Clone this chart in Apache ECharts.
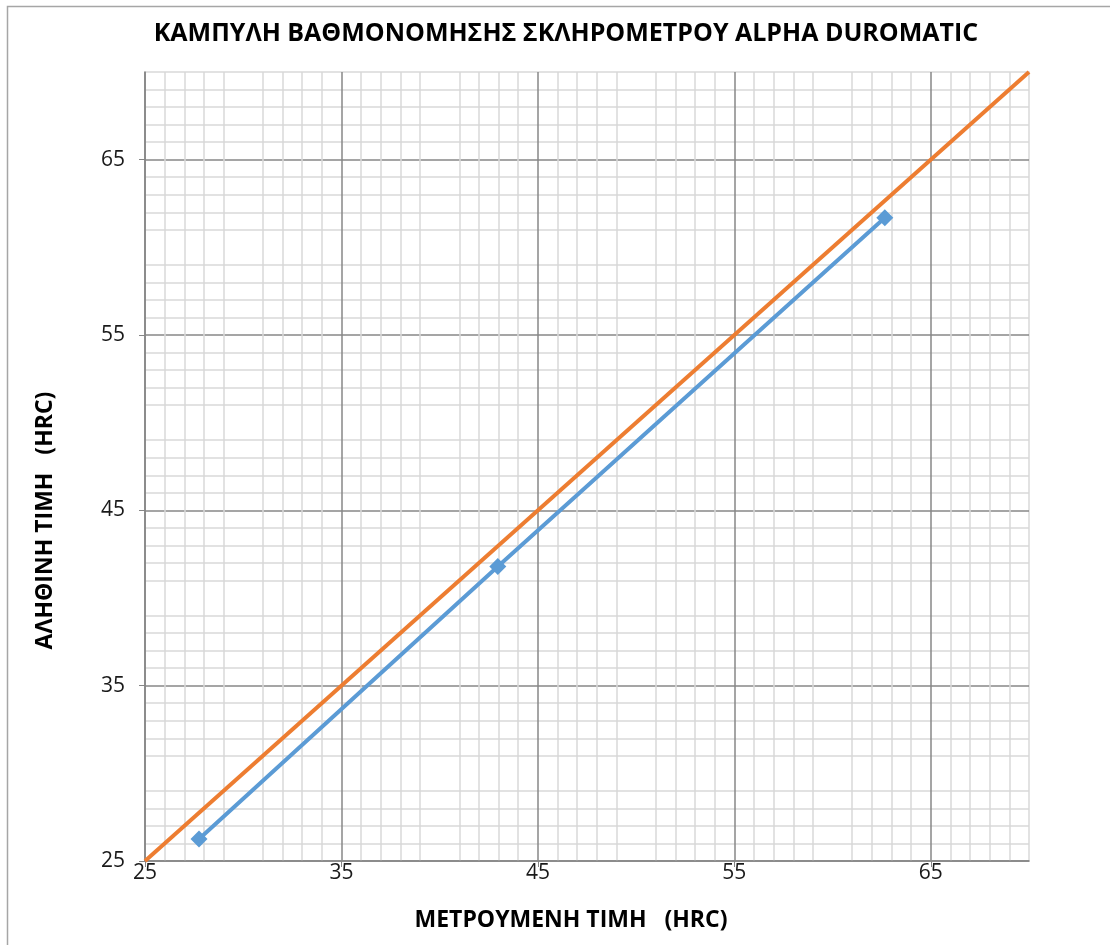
<!DOCTYPE html>
<html><head><meta charset="utf-8">
<script src="https://cdn.jsdelivr.net/npm/echarts@6/dist/echarts.min.js"></script>
<style>html,body{margin:0;padding:0;background:#fff}#c{width:1110px;height:945px}</style>
</head><body><div id="c"></div>
<script>
const measured = [27.75, 42.96, 62.66];
const actual = [26.26, 41.8, 61.69];
const refX = [25, 70];
const refY = [25, 70];
const majorTicks = [25, 35, 45, 55, 65];

const chart = echarts.init(document.getElementById('c'));
const FONT = '"Open Sans", sans-serif';
function axis(nameText, isX) {
  return {
    type: 'value', min: 25, max: 70, interval: 5,
    name: nameText, nameLocation: 'middle',
    nameGap: isX ? 48 : 88,
    nameTextStyle: { fontFamily: FONT, fontWeight: 'bold', fontSize: 23, color: '#000', padding: isX ? [0, 32, 0, 0] : [0, 108, 0, 0] },
    axisLine: { show: true, lineStyle: { color: '#868686', width: 1.5 } },
    axisTick: { show: true, length: 6, lineStyle: { color: '#868686' }, customValues: majorTicks },
    axisLabel: { fontFamily: FONT, fontSize: 21, color: '#1a1a1a', margin: isX ? 2 : 20, customValues: majorTicks },
    splitLine: { show: true, lineStyle: { color: '#878787', width: 1.5 } },
    minorTick: { show: false, splitNumber: 5 },
    minorSplitLine: { show: true, lineStyle: { color: '#d9d9d9', width: 1.5 } }
  };
}
chart.setOption({
  animation: false,
  title: {
    text: 'ΚΑΜΠΥΛΗ ΒΑΘΜΟΝΟΜΗΣΗΣ ΣΚΛΗΡΟΜΕΤΡΟΥ ALPHA DUROMATIC',
    left: 561, top: 16, textAlign: 'center',
    textStyle: { fontFamily: FONT, fontWeight: 'bold', fontSize: 25, color: '#000' }
  },
  graphic: [{ type: 'rect', shape: { x: 7.5, y: 6.5, width: 1200, height: 1000 }, style: { fill: 'none', stroke: '#a6a6a6', lineWidth: 1.5 }, silent: true }],
  grid: { left: 145, top: 72, right: 81, bottom: 84, show: true, borderColor: '#d9d9d9', borderWidth: 1.5, backgroundColor: 'transparent' },
  xAxis: axis('ΜΕΤΡΟΥΜΕΝΗ ΤΙΜΗ   (HRC)', true),
  yAxis: axis('ΑΛΗΘΙΝΗ ΤΙΜΗ   (HRC)', false),
  series: [
    { type: 'line', data: refX.map((v, i) => [v, refY[i]]), symbol: 'none', lineStyle: { color: '#ed7d31', width: 4 }, z: 3 },
    { type: 'line', data: measured.map((v, i) => [v, actual[i]]), symbol: 'diamond', symbolSize: 17, itemStyle: { color: '#5b9bd5' }, lineStyle: { color: '#5b9bd5', width: 4 }, z: 4 }
  ]
});
</script></body></html>
